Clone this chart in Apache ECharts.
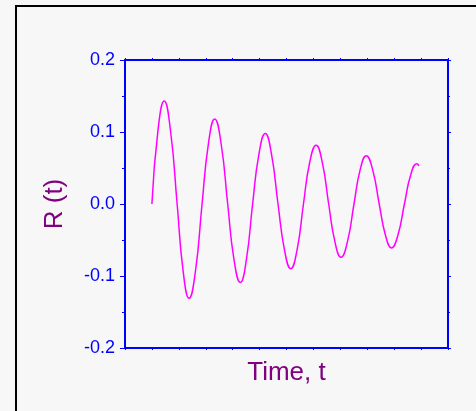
<!DOCTYPE html>
<html>
<head>
<meta charset="utf-8">
<script src="https://cdn.jsdelivr.net/npm/echarts@6/dist/echarts.min.js"></script>
<style>
  html, body { margin: 0; padding: 0; background: #f7f7f7; }
  #chart { width: 476px; height: 411px; }
</style>
</head>
<body>
<div id="chart"></div>
<script>
// Time samples along the trace (zero crossings, extrema and points in between)
const timeValues = [
  1.000, 1.230, 1.456, 1.696, 1.937, 2.159, 2.381, 2.622, 2.863, 3.100,
  3.333, 3.574, 3.815, 4.048, 4.285, 4.511, 4.741, 4.974, 5.211, 5.444,
  5.685, 5.926, 6.159, 6.396, 6.630, 6.863, 7.100, 7.333, 7.567, 7.796,
  8.026, 8.267, 8.507, 8.733, 8.963, 9.204, 9.444, 9.674, 9.900, 10.141,
  10.381, 10.611, 10.841, 10.926
];
// R(t) at each time sample: a decaying oscillation
const rValues = [
  0.000, 0.104, 0.143, 0.100, 0.000, -0.093, -0.131, -0.092, 0.000, 0.084,
  0.118, 0.083, 0.000, -0.077, -0.109, -0.077, 0.000, 0.069, 0.098, 0.069,
  0.000, -0.064, -0.090, -0.063, 0.000, 0.058, 0.0815, 0.057, 0.000, -0.052,
  -0.074, -0.052, 0.000, 0.047, 0.067, 0.047, 0.000, -0.043, -0.061, -0.043,
  0.000, 0.040, 0.056, 0.053
];
// Axis ranges
const timeRange = [0, 12, 1];
const rRange = [-0.2, 0.2, 0.1];

const seriesData = timeValues.map((t, i) => [t, rValues[i]]);

const font = 'Liberation Sans, Arial, sans-serif';
const axisBlue = '#0000ff';
const titlePurple = '#800080';

const chart = echarts.init(document.getElementById('chart'), null, { renderer: 'canvas' });

const xCommon = {
  type: 'value',
  min: timeRange[0], max: timeRange[1], interval: timeRange[2],
  axisLine: { show: true, onZero: false, lineStyle: { color: axisBlue, width: 2 } },
  axisTick: { show: true, inside: false, length: 2, lineStyle: { color: axisBlue, width: 1 } },
  axisLabel: { show: false },
  splitLine: { show: false }
};
const yCommon = {
  type: 'value',
  min: rRange[0], max: rRange[1], interval: rRange[2],
  axisLine: { show: true, onZero: false, lineStyle: { color: axisBlue, width: 2 } },
  axisTick: { show: true, inside: false, length: 5, lineStyle: { color: axisBlue, width: 1 } },
  minorTick: { show: true, splitNumber: 2, length: 3, lineStyle: { color: axisBlue, width: 1 } },
  splitLine: { show: false },
  minorSplitLine: { show: false }
};

chart.setOption({
  backgroundColor: '#f7f7f7',
  animation: false,
  grid: { left: 125, top: 60, right: 28, bottom: 63, containLabel: false },
  xAxis: [
    Object.assign({}, xCommon, {
      position: 'bottom',
      name: 'Time, t',
      nameLocation: 'middle',
      nameGap: 12,
      nameTextStyle: { color: titlePurple, fontSize: 26, fontFamily: font, verticalAlign: 'top' }
    }),
    Object.assign({}, xCommon, { position: 'top' })
  ],
  yAxis: [
    Object.assign({}, yCommon, {
      position: 'left',
      name: 'R (t)',
      nameLocation: 'middle',
      nameGap: 57,
      nameRotate: 90,
      nameTextStyle: { color: titlePurple, fontSize: 26, fontFamily: font },
      axisLabel: {
        show: true, color: axisBlue, fontSize: 18, fontFamily: font, margin: 10,
        formatter: v => v.toFixed(1)
      }
    }),
    Object.assign({}, yCommon, {
      position: 'right',
      axisTick: { show: true, inside: false, length: 3, lineStyle: { color: axisBlue, width: 1 } },
      minorTick: { show: true, splitNumber: 2, length: 2, lineStyle: { color: axisBlue, width: 1 } },
      axisLabel: { show: false }
    })
  ],
  series: [{
    type: 'line',
    xAxisIndex: 0,
    yAxisIndex: 0,
    data: seriesData,
    smooth: 0.5,
    symbol: 'none',
    lineStyle: { color: '#ff00ff', width: 1.5 }
  }],
  graphic: [
    // frame edges on the left and top
    { type: 'line', shape: { x1: 16, y1: 5, x2: 16, y2: 411 }, style: { stroke: '#000', lineWidth: 2 }, silent: true },
    { type: 'line', shape: { x1: 15, y1: 6, x2: 476, y2: 6 }, style: { stroke: '#000', lineWidth: 2 }, silent: true }
  ]
});
</script>
</body>
</html>
